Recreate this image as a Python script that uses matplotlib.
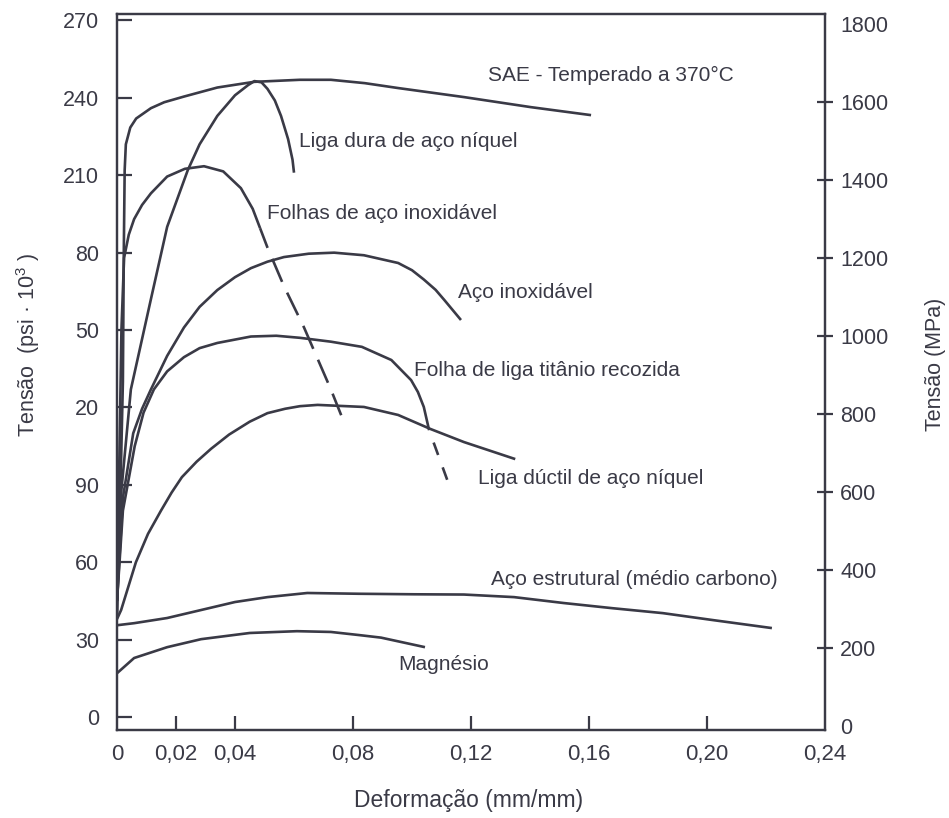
import numpy as np
import matplotlib.pyplot as plt

plt.rcParams.update({
    'font.family': ['Liberation Sans', 'DejaVu Sans'],
    'mathtext.fontset': 'custom',
    'mathtext.rm': 'Liberation Sans',
    'mathtext.it': 'Liberation Sans',
    'font.size': 15,
})

ink = '#3a3a46'

# strain (mm/mm) and stress (psi x 10^3)
sae_x = [0, 0.0012, 0.002, 0.0023, 0.0026, 0.003, 0.0045, 0.0065, 0.0115, 0.016, 0.0227,
         0.034, 0.0464, 0.062, 0.0725, 0.084, 0.0953, 0.1176, 0.1403, 0.1607]
sae_y = [40, 90, 130, 180, 212, 222, 228.5, 232, 236, 238.3, 240.5,
         244, 246.2, 247, 247, 245.7, 243.8, 240.3, 236.4, 233.3]

dura_x = [0, 0.0015, 0.0047, 0.0115, 0.017, 0.024, 0.028, 0.034, 0.04, 0.0445, 0.0466,
          0.049, 0.051, 0.0535, 0.0556, 0.058, 0.0595, 0.060]
dura_y = [45, 88, 127, 162, 190, 212, 222, 233, 241, 245, 246.5,
          246, 243.5, 239, 233, 224, 216, 211]

folhas_x = [0, 0.0008, 0.0015, 0.0024, 0.004, 0.0058, 0.0085, 0.0115, 0.017, 0.023, 0.0295,
            0.036, 0.042, 0.046, 0.0485]
folhas_y = [40, 100, 150, 178, 187, 193, 198.5, 203, 209.5, 212.5, 213.5,
            211.5, 205, 197, 189.5]
folhas_tr_x = [0.0485, 0.051, 0.0566, 0.0634, 0.0725, 0.076]
folhas_tr_y = [189.5, 182, 167, 151, 127, 117]

inox_x = [0, 0.002, 0.0055, 0.0085, 0.0115, 0.017, 0.0227, 0.028, 0.034, 0.040, 0.0454,
          0.051, 0.0566, 0.065, 0.0736, 0.0837, 0.0953, 0.100, 0.104, 0.108, 0.111, 0.1166]
inox_y = [45, 85, 110, 119.5, 127, 140, 151, 159, 165.5, 170.5, 174,
          176.5, 178.3, 179.6, 180, 179, 176, 173.2, 169.6, 165.6, 161.6, 153.9]

titanio_x = [0, 0.002, 0.006, 0.009, 0.0125, 0.017, 0.0227, 0.028, 0.034, 0.0454, 0.054,
             0.062, 0.0725, 0.083, 0.093, 0.0997, 0.102, 0.104, 0.1058]
titanio_y = [45, 80, 105, 118, 127, 134, 139.5, 143, 145, 147.5, 147.8,
             147, 145.5, 143.5, 138.4, 130.6, 126, 120.2, 111.2]
titanio_tr_x = [0.1058, 0.1132]
titanio_tr_y = [111.2, 88]

ductil_x = [0, 0.0014, 0.0064, 0.0105, 0.0149, 0.0185, 0.022, 0.027, 0.0319, 0.038, 0.045,
            0.051, 0.057, 0.062, 0.068, 0.0837, 0.0953, 0.1064, 0.1176, 0.135]
ductil_y = [38, 41.5, 60, 71, 80, 87, 93, 99, 104, 109.5, 114.5,
            117.8, 119.5, 120.5, 121, 120.2, 117.1, 111.6, 106.6, 100]

estrutural_x = [0, 0.0058, 0.017, 0.0285, 0.04, 0.051, 0.0645, 0.082, 0.1007, 0.1176, 0.1346,
                0.1515, 0.168, 0.185, 0.202, 0.222]
estrutural_y = [35.6, 36.4, 38.4, 41.5, 44.6, 46.5, 48.1, 47.8, 47.6, 47.5, 46.5,
                44.2, 42.2, 40.3, 37.6, 34.5]

magnesio_x = [0, 0.0058, 0.017, 0.0285, 0.045, 0.061, 0.0725, 0.082, 0.0895, 0.1044]
magnesio_y = [17, 22.9, 27.1, 30.2, 32.6, 33.3, 33, 31.8, 30.8, 27.1]

# curve labels: text, anchor strain, anchor stress
labels = [
    ('SAE - Temperado a 370°C', 0.1258, 248.8),
    ('Liga dura de aço níquel', 0.0617, 222.9),
    ('Folhas de aço inoxidável', 0.0508, 195.3),
    ('Aço inoxidável', 0.1156, 164.7),
    ('Folha de liga titânio recozida', 0.1007, 134.5),
    ('Liga dúctil de aço níquel', 0.1224, 92.6),
    ('Aço estrutural (médio carbono)', 0.1268, 53.5),
    ('Magnésio', 0.0953, 20.2),
]

x_ticks = [0, 0.02, 0.04, 0.08, 0.12, 0.16, 0.20, 0.24]
x_ticklabels = ['0', '0,02', '0,04', '0,08', '0,12', '0,16', '0,20', '0,24']
psi_ticks = [0, 30, 60, 90, 120, 150, 180, 210, 240, 270]
psi_ticklabels = ['0', '30', '60', '90', '20', '50', '80', '210', '240', '270']
mpa_ticks = [0, 200, 400, 600, 800, 1000, 1200, 1400, 1600, 1800]

fig = plt.figure(figsize=(9.49, 8.18), dpi=100)
ax = fig.add_axes([117 / 949, 88 / 818, 708 / 949, 716 / 818])

solid = [(sae_x, sae_y), (dura_x, dura_y), (folhas_x, folhas_y), (inox_x, inox_y),
         (titanio_x, titanio_y), (ductil_x, ductil_y), (estrutural_x, estrutural_y),
         (magnesio_x, magnesio_y)]
for xs, ys in solid:
    ax.plot(xs, ys, color=ink, lw=1.9, solid_joinstyle='round', solid_capstyle='butt', zorder=3)
ax.plot(folhas_tr_x, folhas_tr_y, color=ink, lw=1.9, ls=(1.5, (9.5, 4.5)), zorder=3)
ax.plot(titanio_tr_x, titanio_tr_y, color=ink, lw=1.9, ls=(5, (5, 5)), zorder=3)

for txt, lx, ly in labels:
    ax.text(lx, ly, txt, ha='left', va='center', color=ink, fontsize=15)

ax.set_xlim(0, 0.24)
ax.set_ylim(-5.0, 272.5)
ax.set_xticks(x_ticks)
ax.set_xticklabels(x_ticklabels)
ax.set_yticks(psi_ticks)
ax.set_yticklabels(psi_ticklabels)
ax.tick_params(axis='x', direction='in', length=10, width=1.6, pad=10,
               colors=ink, labelsize=16)
ax.tick_params(axis='y', direction='in', length=11, width=1.6, pad=13,
               colors=ink, labelsize=15.5)
for t in (ax.xaxis.get_major_ticks()[0], ax.xaxis.get_major_ticks()[-1],
          ax.yaxis.get_major_ticks()[0], ax.yaxis.get_major_ticks()[-1]):
    t.tick1line.set_visible(False)
    t.tick2line.set_visible(False)

ax2 = ax.twinx()
ax2.set_ylim(-10.3, 1825.6)
ax2.set_yticks(mpa_ticks)
ax2.tick_params(axis='y', direction='inout', length=12, width=1.6, pad=5,
                colors=ink, labelsize=15.5)
for t in (ax2.yaxis.get_major_ticks()[0], ax2.yaxis.get_major_ticks()[-1]):
    t.tick1line.set_visible(False)
    t.tick2line.set_visible(False)

for a in (ax, ax2):
    for sp in a.spines.values():
        sp.set_linewidth(1.6)
        sp.set_color(ink)

fig.text(469 / 949, 1 - 801 / 818, 'Deformação (mm/mm)', ha='center', va='center',
         color=ink, fontsize=16.5)
fig.text(28 / 949, 1 - 345 / 818, 'Tensão  (psi · 10$^3$ )', ha='center', va='center',
         rotation=90, color=ink, fontsize=15.5)
fig.text(935 / 949, 1 - 364 / 818, 'Tensão (MPa)', ha='center', va='center',
         rotation=90, color=ink, fontsize=15.5)

fig.savefig('out.png', dpi=100, facecolor='white')
